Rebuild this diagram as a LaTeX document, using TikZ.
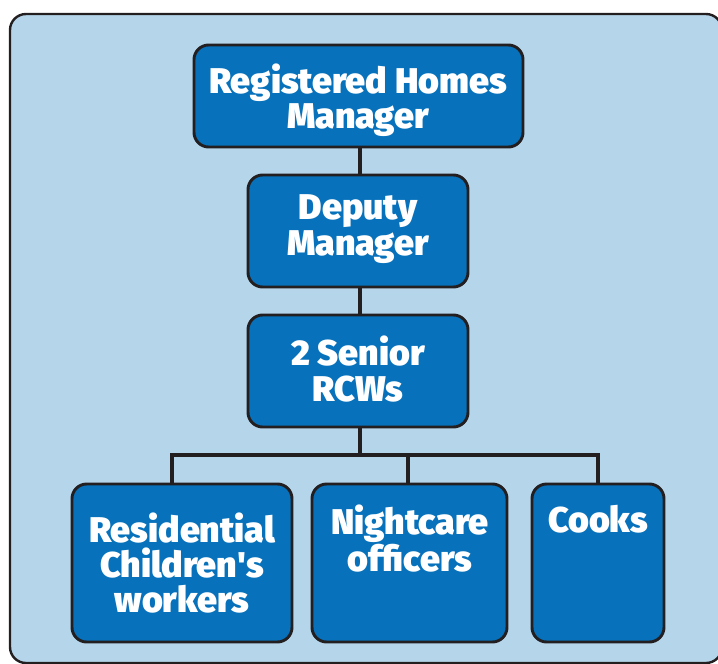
\documentclass[tikz,border=0pt]{standalone}
\usepackage{fontspec}
\setmainfont{Fira Sans}[BoldFont={Fira Sans Black}]
\begin{document}
\begin{tikzpicture}[x=0.75pt,y=-0.75pt,
  box/.style={draw=linec,fill=boxc,line width=2.2pt,rounded corners=11pt},
  lbl/.style={text=white,font=\bfseries\fontsize{26.8}{26.5}\selectfont,align=center},
  conn/.style={draw=linec,line width=3pt}]
\definecolor{boxc}{HTML}{0772BB}
\definecolor{bgc}{HTML}{B5D5EB}
\definecolor{linec}{HTML}{231F20}
\useasboundingbox (0,0) rectangle (718,664);
\clip (0,0) rectangle (718,664);
\draw[fill=bgc,draw=linec,line width=1.8pt,rounded corners=12pt] (10,14) rectangle (722,663);
% connectors
\coordinate (rhmB) at (360,147);
\coordinate (dmT) at (360,175); \coordinate (dmB) at (360,287);
\coordinate (srT) at (360,315); \coordinate (srB) at (360,427);
\coordinate (rcT) at (172,484);
\coordinate (noT) at (408,484);
\coordinate (ckT) at (598,484);
\coordinate (hub) at (360,455);
\draw[conn] (rhmB) -- (dmT);
\draw[conn] (dmB) -- (srT);
\draw[conn] (srB) -- (hub);
\draw[conn] (rcT) |- (hub) -| (ckT);
\draw[conn] (noT) -- (noT |- hub);
% boxes
\path[box] (194,45) rectangle (523,147);
\path[box] (248,175) rectangle (468,287);
\path[box] (248,315) rectangle (468,427);
\path[box] (72,484) rectangle (292,642);
\path[box] (312,484) rectangle (507,642);
\path[box] (532,484) rectangle (664,642);
% labels
\node[lbl] (rhm) at (358,100) {Registered Homes\\Manager};
\node[lbl] (dm) at (358,229) {Deputy\\Manager};
\node[lbl] (sr) at (358,369) {2 Senior\\RCWs};
\node[lbl] (rc) at (182,563) {Residential\\Children\textquotesingle s\\workers};
\node[lbl,anchor=north] (no) at (410,500) {Nightcare\\officers};
\node[lbl,anchor=north] (ck) at (598,500) {Cooks};
\end{tikzpicture}
\end{document}
